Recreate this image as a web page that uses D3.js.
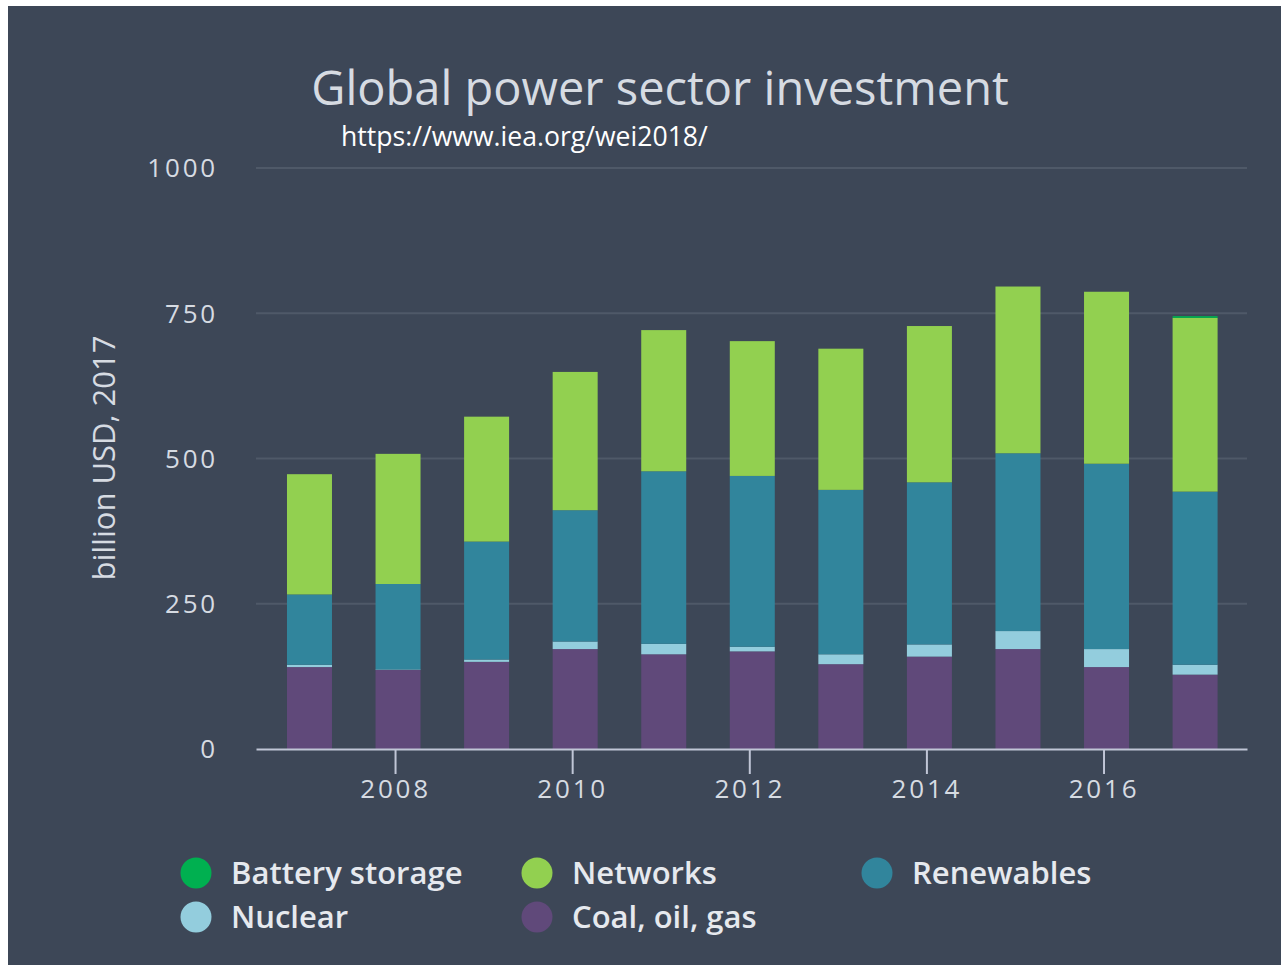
<!DOCTYPE html>
<html><head><meta charset="utf-8">
<script src="https://cdn.jsdelivr.net/npm/d3@7"></script>
<style>
html,body{margin:0;padding:0;background:#ffffff;}
svg{display:block;}
</style></head>
<body>
<svg id="chart" width="1281" height="965"></svg>
<script>
const years = [2007, 2008, 2009, 2010, 2011, 2012, 2013, 2014, 2015, 2016, 2017];
const coalOilGas = [141, 136, 150, 172, 163, 168, 146, 159, 172, 141, 128];
const nuclear    = [4, 1, 4, 13, 18, 8, 17, 21, 31, 31, 17];
const renewables = [121, 147, 203, 226, 297, 294, 283, 279, 306, 319, 298];
const networks   = [207, 224, 215, 238, 243, 232, 243, 269, 287, 296, 299];
const battery    = [0, 0, 0, 0, 0, 0, 0, 0, 0, 0, 3];
const yTicks = [0, 250, 500, 750, 1000];
const xTicks = [2008, 2010, 2012, 2014, 2016];
const seriesNames = ["Coal, oil, gas", "Nuclear", "Renewables", "Networks", "Battery storage"];
const seriesColors = ["#60497a", "#93cddd", "#31859c", "#92d050", "#00b050"];
const legendOrder = ["Battery storage", "Networks", "Renewables", "Nuclear", "Coal, oil, gas"];

const seriesValues = [coalOilGas, nuclear, renewables, networks, battery];
const table = years.map((y, i) => {
  const row = {year: y};
  seriesNames.forEach((n, k) => row[n] = seriesValues[k][i]);
  return row;
});
const stacked = d3.stack().keys(seriesNames)(table);
const color = d3.scaleOrdinal().domain(seriesNames).range(seriesColors);

const svg = d3.select("#chart");
svg.append("rect").attr("x", 8).attr("y", 6).attr("width", 1273).attr("height", 959).attr("fill", "#3d4757");

const x = d3.scaleLinear().domain([2006.43, 2017.62]).range([256, 1247]);
const y = d3.scaleLinear().domain([0, 1000]).range([749, 168]);
const barW = 45, barOffset = 3;

// gridlines
svg.append("g").selectAll("line").data(yTicks.filter(t => t > 0)).join("line")
  .attr("x1", 256).attr("x2", 1247)
  .attr("y1", d => y(d)).attr("y2", d => y(d))
  .attr("stroke", "#4f5968").attr("stroke-width", 2);

// y labels
svg.append("g").selectAll("text").data(yTicks).join("text")
  .attr("x", 218).attr("y", d => y(d)).attr("dy", "0.36em")
  .attr("text-anchor", "end")
  .attr("font-family", "Open Sans").attr("font-size", 26).attr("letter-spacing", 2.8)
  .attr("fill", "#d6dbe2").text(d => d);

// bars
svg.append("g").selectAll("g").data(stacked).join("g")
  .attr("fill", d => color(d.key))
  .selectAll("rect").data(d => d).join("rect")
  .attr("x", d => x(d.data.year) + barOffset - barW / 2)
  .attr("width", barW)
  .attr("y", d => y(d[1]))
  .attr("height", d => y(d[0]) - y(d[1]));

// x axis
const xAxis = d3.axisBottom(x).tickValues(xTicks).tickFormat(d3.format("d")).tickSize(25).tickSizeOuter(0).tickPadding(4);
const gx = svg.append("g").attr("transform", "translate(0,749)").call(xAxis);
gx.select(".domain").attr("stroke", "#c0c6d6").attr("stroke-width", 2);
gx.selectAll(".tick line").attr("stroke", "#c0c6d6").attr("stroke-width", 2);
gx.selectAll(".tick text").attr("font-family", "Open Sans").attr("font-size", 26)
  .attr("letter-spacing", 2.8).attr("fill", "#d6dbe2").attr("y", 40).attr("dy", "0.36em");

// y axis title
svg.append("text").attr("transform", "translate(104,458) rotate(-90)")
  .attr("text-anchor", "middle").attr("dy", "0.36em")
  .attr("font-family", "Open Sans").attr("font-size", 31).attr("fill", "#d6dbe2")
  .text("billion USD, 2017");

// title
svg.append("text").attr("x", 660).attr("y", 105).attr("text-anchor", "middle")
  .attr("font-family", "Open Sans").attr("font-size", 47).attr("fill", "#d6dbe2")
  .text("Global power sector investment");
svg.append("text").attr("x", 341).attr("y", 146)
  .attr("font-family", "Open Sans").attr("font-size", 26.6).attr("fill", "#ffffff")
  .text("https://www.iea.org/wei2018/");

// legend
const legendPos = [[196, 873], [537, 873], [877, 873], [196, 917], [537, 917]];
const lg = svg.append("g").selectAll("g").data(legendOrder).join("g")
  .attr("transform", (d, i) => `translate(${legendPos[i][0]},${legendPos[i][1]})`);
lg.append("circle").attr("r", 15.5).attr("fill", d => color(d));
lg.append("text").attr("x", 35).attr("dy", "0.36em")
  .attr("font-family", "Open Sans").attr("font-weight", 600).attr("font-size", 31)
  .attr("fill", "#e6e9ee").text(d => d);
</script>
</body></html>
